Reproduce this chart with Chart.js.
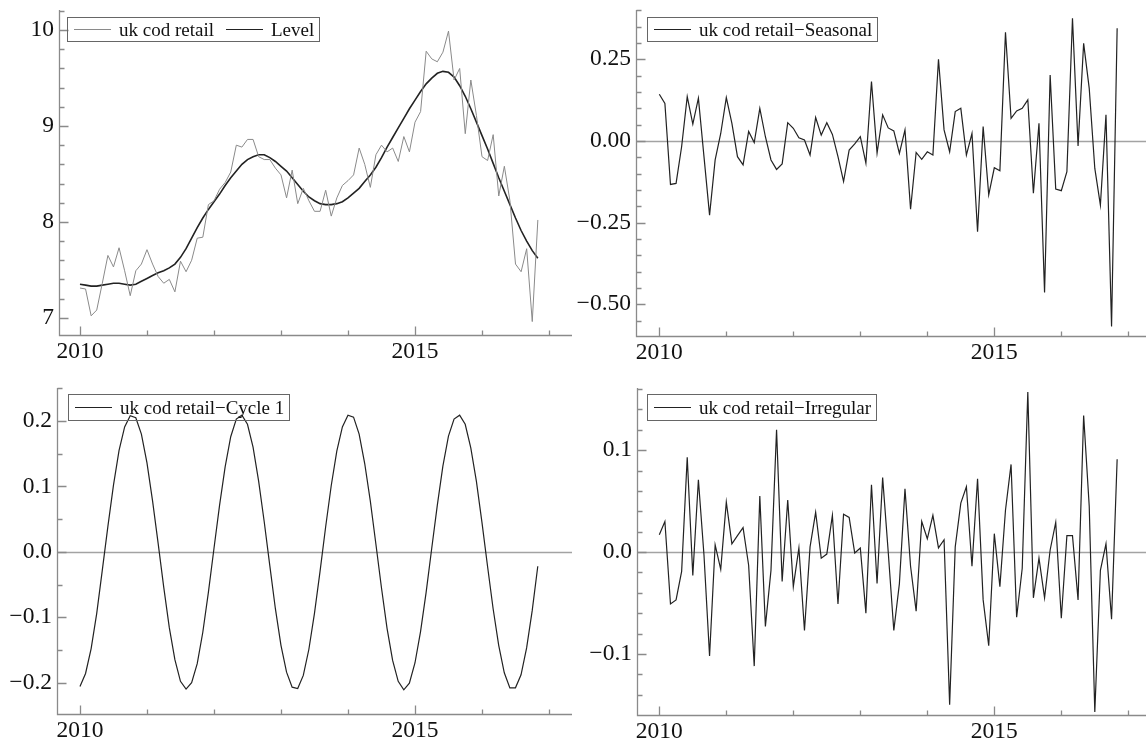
<!DOCTYPE html>
<html lang="en">
<head>
<meta charset="UTF-8" />
<title>uk cod retail - components</title>
<script src="https://cdn.jsdelivr.net/npm/chart.js"></script>
<style>
  body { margin: 0; background: #fff; }
  #wrap { position: relative; width: 1146px; height: 744px; overflow: hidden; }
  #wrap canvas { position: absolute; }
  .legend {
    position: absolute;
    border: 1px solid #666;
    display: flex;
    align-items: center;
    box-sizing: border-box;
    padding-right: 5px;
    font-family: 'Liberation Serif', 'Times New Roman', serif;
    font-size: 19px;
    color: #111;
    white-space: nowrap;
  }
  .legend .ln { display: inline-block; width: 37px; margin-left: 6px; margin-right: 8px; border-top: 1px solid #222; }
  .legend .ln.gray { border-top-color: #8a8a8a; }
  .legend .ln.thick { border-top-width: 1.6px; }
  .legend .ln.second { margin-left: 12px; }
</style>
</head>
<body>
<div id="wrap">
  <canvas id="c1" width="573" height="372" style="left:0;top:0"></canvas>
  <canvas id="c2" width="573" height="372" style="left:573px;top:0"></canvas>
  <canvas id="c3" width="573" height="372" style="left:0;top:372px"></canvas>
  <canvas id="c4" width="573" height="372" style="left:573px;top:372px"></canvas>

  <div class="legend" style="left:67px;top:17px;height:25px">
    <span class="ln gray"></span>uk cod retail<span class="ln thick second"></span>Level
  </div>
  <div class="legend" style="left:647px;top:17px;height:25px">
    <span class="ln"></span>uk cod retail&minus;Seasonal
  </div>
  <div class="legend" style="left:68px;top:394px;height:27px">
    <span class="ln"></span>uk cod retail&minus;Cycle 1
  </div>
  <div class="legend" style="left:647px;top:394px;height:27px">
    <span class="ln"></span>uk cod retail&minus;Irregular
  </div>
</div>

<script>
  // monthly data, Jan 2010 .. Nov 2016
  const startYear = 2010;

  const rawSeries = [
    7.31, 7.30, 7.02, 7.08, 7.36, 7.65, 7.53, 7.73, 7.49, 7.23,
    7.49, 7.56, 7.71, 7.56, 7.43, 7.36, 7.40, 7.27, 7.59, 7.48,
    7.60, 7.83, 7.84, 8.18, 8.22, 8.34, 8.41, 8.52, 8.80, 8.78,
    8.86, 8.86, 8.68, 8.65, 8.65, 8.56, 8.49, 8.25, 8.54, 8.19,
    8.35, 8.22, 8.11, 8.11, 8.33, 8.06, 8.25, 8.38, 8.43, 8.49,
    8.77, 8.60, 8.36, 8.70, 8.80, 8.73, 8.77, 8.63, 8.89, 8.73,
    9.04, 9.15, 9.78, 9.70, 9.67, 9.77, 9.99, 9.48, 9.60, 8.92,
    9.48, 9.11, 8.68, 8.64, 8.91, 8.27, 8.58, 8.22, 7.56, 7.48,
    7.72, 6.96, 8.02
  ];

  const levelSeries = [
    7.35, 7.34, 7.33, 7.33, 7.34, 7.35, 7.36, 7.36, 7.35, 7.34,
    7.35, 7.38, 7.41, 7.44, 7.47, 7.49, 7.52, 7.56, 7.63, 7.72,
    7.83, 7.94, 8.04, 8.13, 8.21, 8.29, 8.38, 8.46, 8.53, 8.60,
    8.65, 8.68, 8.70, 8.70, 8.67, 8.63, 8.58, 8.53, 8.46, 8.39,
    8.32, 8.26, 8.22, 8.19, 8.18, 8.18, 8.19, 8.21, 8.25, 8.30,
    8.35, 8.42, 8.49, 8.57, 8.67, 8.78, 8.88, 8.98, 9.08, 9.18,
    9.27, 9.36, 9.44, 9.50, 9.55, 9.57, 9.56, 9.51, 9.42, 9.31,
    9.18, 9.04, 8.90, 8.76, 8.61, 8.46, 8.32, 8.18, 8.04, 7.91,
    7.80, 7.70, 7.62
  ];

  const seasonalSeries = [
    0.143, 0.115, -0.133, -0.130, -0.017, 0.136, 0.052, 0.131, -0.048, -0.227,
    -0.058, 0.023, 0.133, 0.054, -0.048, -0.073, 0.029, -0.005, 0.100, 0.013,
    -0.058, -0.087, -0.070, 0.056, 0.039, 0.010, 0.003, -0.043, 0.072, 0.018,
    0.056, 0.020, -0.048, -0.124, -0.028, -0.009, 0.013, -0.068, 0.182, -0.037,
    0.080, 0.040, 0.031, -0.038, 0.034, -0.209, -0.035, -0.056, -0.033, -0.043,
    0.250, 0.034, -0.033, 0.090, 0.100, -0.043, 0.023, -0.278, 0.044, -0.165,
    -0.082, -0.091, 0.333, 0.069, 0.092, 0.100, 0.126, -0.160, 0.054, -0.464,
    0.202, -0.147, -0.152, -0.094, 0.376, -0.015, 0.299, 0.161, -0.084, -0.196,
    0.080, -0.568, 0.345
  ];

  const cycleSeries = [
    -0.206, -0.186, -0.148, -0.094, -0.028, 0.039, 0.102, 0.155, 0.191, 0.208,
    0.205, 0.180, 0.136, 0.078, 0.013, -0.054, -0.116, -0.165, -0.198, -0.210,
    -0.200, -0.171, -0.123, -0.062, 0.005, 0.071, 0.130, 0.176, 0.203, 0.209,
    0.195, 0.160, 0.108, 0.046, -0.021, -0.087, -0.143, -0.184, -0.207, -0.209,
    -0.189, -0.149, -0.094, -0.030, 0.038, 0.101, 0.154, 0.191, 0.209, 0.206,
    0.180, 0.135, 0.078, 0.012, -0.055, -0.117, -0.166, -0.198, -0.211, -0.201,
    -0.170, -0.122, -0.062, 0.005, 0.071, 0.131, 0.177, 0.203, 0.209, 0.195,
    0.159, 0.108, 0.045, -0.022, -0.087, -0.143, -0.185, -0.208, -0.208, -0.188,
    -0.147, -0.090, -0.022
  ];

  const irregularSeries = [
    0.017, 0.030, -0.051, -0.047, -0.019, 0.093, -0.023, 0.071, -0.003, -0.102,
    0.007, -0.017, 0.049, 0.008, 0.016, 0.024, -0.013, -0.112, 0.055, -0.073,
    -0.018, 0.120, -0.029, 0.051, -0.034, 0.004, -0.077, 0.005, 0.039, -0.006,
    -0.002, 0.036, -0.051, 0.037, 0.034, -0.001, 0.004, -0.060, 0.066, -0.031,
    0.073, 0.000, -0.077, -0.031, 0.062, -0.014, -0.058, 0.030, 0.013, 0.036,
    0.004, 0.012, -0.150, 0.005, 0.048, 0.064, -0.014, 0.072, -0.047, -0.092,
    0.018, -0.034, 0.041, 0.086, -0.064, -0.016, 0.157, -0.045, -0.006, -0.045,
    0.002, 0.029, -0.065, 0.016, 0.016, -0.047, 0.134, 0.045, -0.157, -0.018,
    0.008, -0.066, 0.091
  ];

  // labelled ticks
  const xLabelYears = [2010, 2015];
  const levelTicks = [7, 8, 9, 10];
  const seasonalTicks = [-0.5, -0.25, 0, 0.25];
  const cycleTicks = [-0.2, -0.1, 0, 0.1, 0.2];
  const irregularTicks = [-0.1, 0, 0.1];

  const tickFont = { family: "'Liberation Serif', 'Times New Roman', serif", size: 23.5 };

  function toPoints(values) {
    return values.map((v, i) => ({ x: startYear + i / 12, y: v }));
  }

  function isMajor(v, list) {
    return list.some(t => Math.abs(t - v) < 1e-9);
  }

  function fmt(v, d) {
    return (v < -1e-12 ? '\u2212' : '') + Math.abs(v).toFixed(d);
  }

  // axis lines, inward tick marks and the zero line
  const frame = {
    id: 'frame',
    beforeDatasetsDraw(chart, args, opts) {
      if (!opts.zeroLine) return;
      const { ctx, chartArea, scales } = chart;
      const y = Math.round(scales.y.getPixelForValue(0)) + 0.5;
      ctx.save();
      ctx.strokeStyle = '#a3a3a3';
      ctx.lineWidth = 1.5;
      ctx.beginPath();
      ctx.moveTo(chartArea.left, y);
      ctx.lineTo(chartArea.right, y);
      ctx.stroke();
      ctx.restore();
    },
    afterDatasetsDraw(chart, args, opts) {
      const { ctx, chartArea, scales } = chart;
      const left = Math.round(chartArea.left) + 0.5;
      const bottom = Math.round(chartArea.bottom) + 0.5;
      ctx.save();
      ctx.strokeStyle = '#8a8a8a';
      ctx.lineWidth = 1.3;
      ctx.beginPath();
      ctx.moveTo(left, chartArea.top);
      ctx.lineTo(left, bottom);
      ctx.lineTo(chartArea.right, bottom);
      scales.x.ticks.forEach(t => {
        const x = Math.round(scales.x.getPixelForValue(t.value)) + 0.5;
        const len = isMajor(t.value, xLabelYears) ? 9 : 5;
        ctx.moveTo(x, bottom);
        ctx.lineTo(x, bottom - len);
      });
      scales.y.ticks.forEach(t => {
        const y = Math.round(scales.y.getPixelForValue(t.value)) + 0.5;
        const len = isMajor(t.value, opts.majorY) ? 9 : 5;
        ctx.moveTo(left, y);
        ctx.lineTo(left + len, y);
      });
      ctx.stroke();
      ctx.restore();
    }
  };

  function panel(id, cfg) {
    return new Chart(document.getElementById(id), {
      type: 'line',
      data: {
        datasets: cfg.series.map(s => ({
          label: s.label,
          data: toPoints(s.values),
          borderColor: s.color,
          borderWidth: s.width,
          pointRadius: 0,
          tension: 0,
          fill: false
        }))
      },
      options: {
        responsive: false,
        animation: false,
        devicePixelRatio: 1,
        layout: { padding: { top: cfg.top, right: cfg.right, left: 0, bottom: 0 } },
        plugins: {
          legend: { display: false },
          tooltip: { enabled: false },
          frame: { zeroLine: cfg.zeroLine, majorY: cfg.majorTicks }
        },
        scales: {
          x: {
            type: 'linear',
            min: cfg.xMin,
            max: cfg.xMax,
            grid: { display: false, drawTicks: false },
            border: { display: false },
            afterFit: s => { s.height = cfg.xHeight; s.paddingLeft = 0; s.paddingRight = 0; },
            ticks: {
              stepSize: 1,
              includeBounds: false,
              autoSkip: false,
              maxRotation: 0,
              maxTicksLimit: 200,
              padding: 3,
              color: '#111',
              font: tickFont,
              callback: v => isMajor(v, xLabelYears) ? String(Math.round(v)) : ''
            }
          },
          y: {
            min: cfg.yMin,
            max: cfg.yMax,
            grid: { display: false, drawTicks: false },
            border: { display: false },
            afterFit: s => { s.width = cfg.yWidth; s.paddingTop = 0; s.paddingBottom = 0; },
            ticks: {
              stepSize: cfg.minorStep,
              includeBounds: false,
              autoSkip: false,
              maxTicksLimit: 200,
              padding: 5,
              color: '#111',
              font: tickFont,
              callback: v => isMajor(v, cfg.majorTicks) ? fmt(v, cfg.decimals) : ''
            }
          }
        }
      },
      plugins: [frame]
    });
  }

  panel('c1', {
    series: [
      { label: 'uk cod retail', values: rawSeries, color: '#8a8a8a', width: 1 },
      { label: 'Level', values: levelSeries, color: '#222', width: 1.6 }
    ],
    top: 10, right: 1, xHeight: 37, yWidth: 59,
    xMin: 2009.687, xMax: 2017.343,
    yMin: 6.82, yMax: 10.21, minorStep: 0.2, majorTicks: levelTicks, decimals: 0,
    zeroLine: false
  });

  panel('c2', {
    series: [{ label: 'uk cod retail-Seasonal', values: seasonalSeries, color: '#222', width: 1.2 }],
    top: 10, right: 0, xHeight: 36, yWidth: 63,
    xMin: 2009.652, xMax: 2017.264,
    yMin: -0.597, yMax: 0.401, minorStep: 0.05, majorTicks: seasonalTicks, decimals: 2,
    zeroLine: true
  });

  panel('c3', {
    series: [{ label: 'uk cod retail-Cycle 1', values: cycleSeries, color: '#222', width: 1.2 }],
    top: 16, right: 1, xHeight: 30, yWidth: 57,
    xMin: 2009.657, xMax: 2017.344,
    yMin: -0.248, yMax: 0.2505, minorStep: 0.05, majorTicks: cycleTicks, decimals: 1,
    zeroLine: true
  });

  panel('c4', {
    series: [{ label: 'uk cod retail-Irregular', values: irregularSeries, color: '#222', width: 1.2 }],
    top: 16, right: 0, xHeight: 29, yWidth: 64,
    xMin: 2009.667, xMax: 2017.264,
    yMin: -0.160, yMax: 0.161, minorStep: 0.02, majorTicks: irregularTicks, decimals: 1,
    zeroLine: true
  });
</script>
</body>
</html>
